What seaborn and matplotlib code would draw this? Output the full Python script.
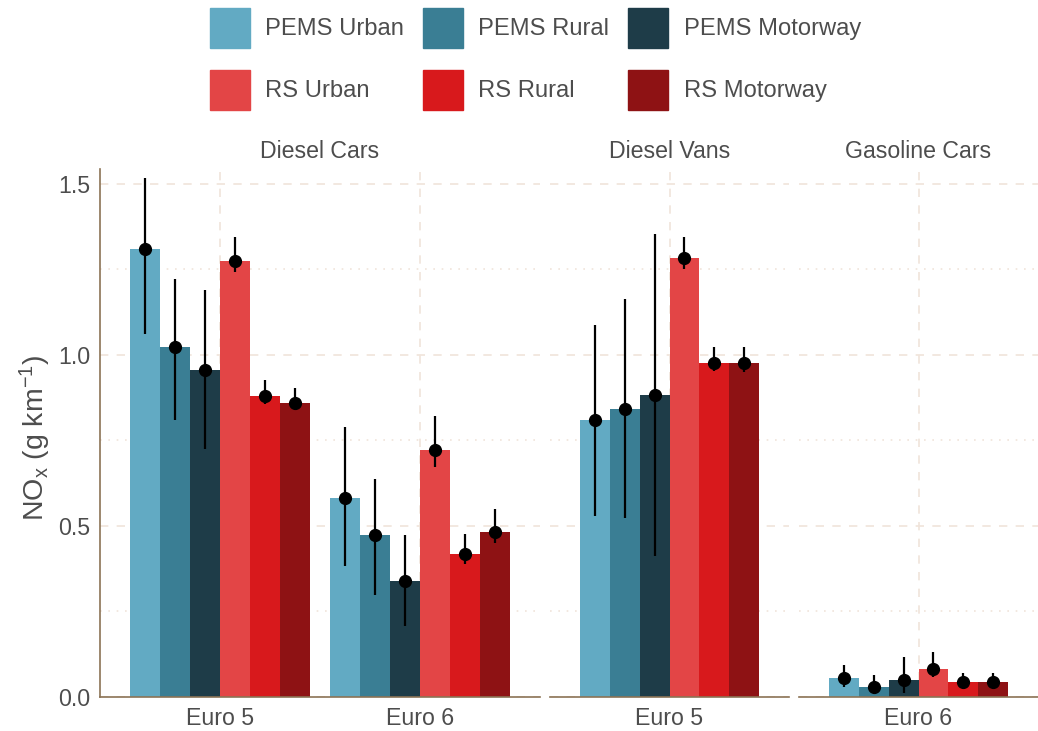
"""NOx emissions by vehicle segment: PEMS vs remote sensing, faceted bar chart."""

import matplotlib

matplotlib.use("Agg")

import matplotlib.pyplot as plt
import pandas as pd
import seaborn as sns
from matplotlib.patches import Patch
from matplotlib.ticker import MultipleLocator

# --- data --------------------------------------------------------------------
SOURCES = ["PEMS Urban", "PEMS Rural", "PEMS Motorway", "RS Urban", "RS Rural", "RS Motorway"]
SOURCE_COLORS = ["#62AAC3", "#3A7E94", "#1E3C48", "#E34546", "#D8191C", "#8E1214"]
FACETS = ["Diesel Cars", "Diesel Vans", "Gasoline Cars"]

GROUP_FACET = ["Diesel Cars", "Diesel Cars", "Diesel Vans", "Gasoline Cars"]
GROUP_EURO = ["Euro 5", "Euro 6", "Euro 5", "Euro 6"]

# one row per group, one value per source (same order as SOURCES)
NOX_MEAN = [
    [1.310, 1.022, 0.955, 1.275, 0.879, 0.859],
    [0.581, 0.473, 0.339, 0.721, 0.418, 0.482],
    [0.810, 0.843, 0.883, 1.283, 0.977, 0.977],
    [0.056, 0.029, 0.050, 0.082, 0.044, 0.044],
]
NOX_LOW = [
    [1.061, 0.809, 0.724, 1.241, 0.857, 0.839],
    [0.384, 0.297, 0.207, 0.672, 0.390, 0.449],
    [0.529, 0.522, 0.412, 1.252, 0.953, 0.951],
    [0.028, 0.011, 0.013, 0.058, 0.025, 0.028],
]
NOX_HIGH = [
    [1.517, 1.223, 1.190, 1.343, 0.927, 0.904],
    [0.789, 0.638, 0.474, 0.822, 0.476, 0.550],
    [1.088, 1.163, 1.353, 1.345, 1.024, 1.022],
    [0.094, 0.064, 0.118, 0.132, 0.069, 0.071],
]

TEXT = "#4D4D4D"
AXIS = "#8B7355"
GRID = "#F0E4DA"
FONT_SIZE = 16.7

rows = []
for facet, euro, means, lows, highs in zip(GROUP_FACET, GROUP_EURO, NOX_MEAN, NOX_LOW, NOX_HIGH):
    for source, mean, low, high in zip(SOURCES, means, lows, highs):
        rows.append(
            {"facet": facet, "euro": euro, "source": source, "nox": mean, "low": low, "high": high}
        )
df = pd.DataFrame(rows)
palette = dict(zip(SOURCES, SOURCE_COLORS))

sns.set_theme(style="white")
plt.rcParams["font.family"] = ["Liberation Sans", "DejaVu Sans"]
plt.rcParams["mathtext.fontset"] = "custom"
plt.rcParams["mathtext.rm"] = "Liberation Sans"
plt.rcParams["mathtext.it"] = "Liberation Sans:italic"

W, H = 1038, 731
fig = plt.figure(figsize=(W / 100, H / 100), dpi=100)

# panel boxes in pixels (left, width); free x space like facet_grid(space="free_x")
panel_left = [100, 550, 799]
panel_width = [440, 239, 239]
panel_top, panel_bottom = 169, 697

axes = []
for i, facet in enumerate(FACETS):
    ax = fig.add_axes(
        [
            panel_left[i] / W,
            (H - panel_bottom) / H,
            panel_width[i] / W,
            (panel_bottom - panel_top) / H,
        ]
    )
    sub = df[df["facet"] == facet]
    order = list(dict.fromkeys(sub["euro"]))
    sns.barplot(
        data=sub,
        x="euro",
        y="nox",
        hue="source",
        hue_order=SOURCES,
        order=order,
        palette=palette,
        saturation=1,
        width=0.9,
        errorbar=None,
        linewidth=0,
        legend=False,
        ax=ax,
        zorder=2,
    )

    # error bars + mean points at the centre of each drawn bar
    xs, ys, lo, hi = [], [], [], []
    for container, source in zip(ax.containers, SOURCES):
        for bar in container:
            x = bar.get_x() + bar.get_width() / 2
            euro = order[int(round(x))]
            rec = sub[(sub["euro"] == euro) & (sub["source"] == source)].iloc[0]
            xs.append(x)
            ys.append(rec["nox"])
            lo.append(rec["nox"] - rec["low"])
            hi.append(rec["high"] - rec["nox"])
    ax.errorbar(
        xs, ys, yerr=[lo, hi], fmt="o", color="black", ms=8.5,
        elinewidth=1.6, capsize=0, zorder=3,
    )

    ax.set_xlim(-0.6, len(order) - 0.4)
    ax.set_ylim(0, 1.543)
    ax.yaxis.set_major_locator(MultipleLocator(0.5))
    ax.yaxis.set_minor_locator(MultipleLocator(0.25))
    ax.yaxis.set_major_formatter(lambda v, _: f"{v:.1f}")
    ax.set_axisbelow(True)
    ax.grid(which="major", axis="both", color=GRID, linestyle=(0, (5, 5)), linewidth=1.2)
    ax.grid(which="minor", axis="y", color=GRID, linestyle=(0, (1, 4)), linewidth=1.2)

    for side in ["top", "right", "left"]:
        ax.spines[side].set_visible(False)
    ax.spines["bottom"].set_color(AXIS)
    ax.spines["bottom"].set_linewidth(1.2)
    ax.tick_params(axis="both", which="major", color=AXIS, length=3, width=1.1,
                   labelsize=FONT_SIZE, labelcolor=TEXT, pad=4)
    ax.tick_params(axis="y", which="minor", length=0)
    if i == 0:
        ax.spines["left"].set_visible(True)
        ax.spines["left"].set_color(AXIS)
        ax.spines["left"].set_linewidth(1.2)
        ax.set_ylabel(r"NO$_\mathregular{x}$ (g km$^{\mathregular{-1}}$)",
                      fontsize=20.5, color=TEXT)
        ax.yaxis.set_label_coords(-0.107, 0.49)
    else:
        ax.tick_params(axis="y", left=False, labelleft=False)
        ax.set_ylabel("")
    ax.set_xlabel("")
    ax.set_title(facet, fontsize=FONT_SIZE, color=TEXT, pad=8)
    axes.append(ax)

# legend: 2 rows x 3 columns, PEMS on top, RS below
legend_order = [0, 3, 1, 4, 2, 5]
fig.legend(
    handles=[Patch(color=SOURCE_COLORS[k]) for k in legend_order],
    labels=[SOURCES[k] for k in legend_order],
    ncol=3,
    loc="upper center",
    bbox_to_anchor=(0.516, 0.989),
    frameon=False,
    fontsize=17.1,
    labelcolor=TEXT,
    handlelength=1.66,
    handleheight=2.2,
    handletextpad=0.66,
    columnspacing=0.8,
    labelspacing=0.93,
    borderpad=0,
    borderaxespad=0,
)

fig.savefig("out.png", dpi=100)
